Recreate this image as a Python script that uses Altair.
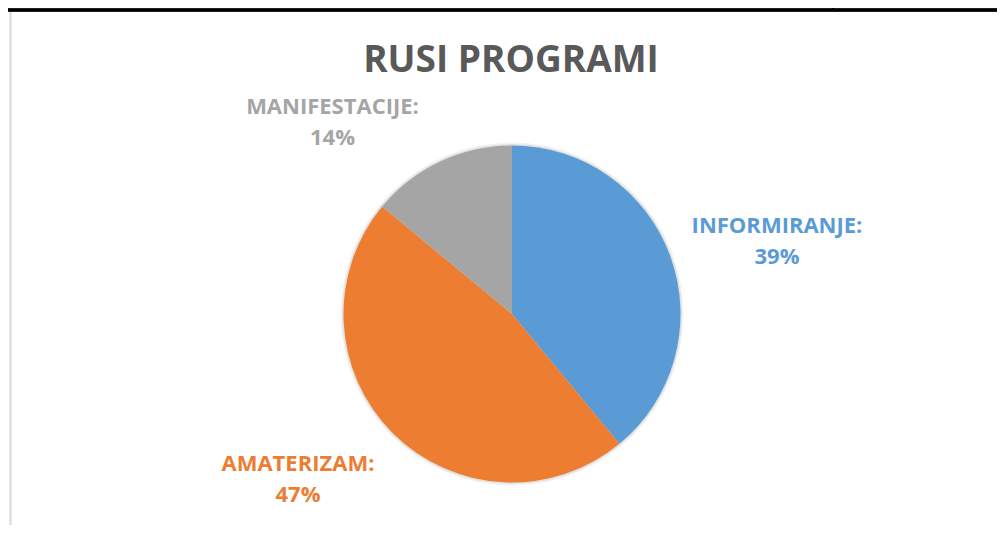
import altair as alt
import pandas as pd

# ---- data ----
title_text = "RUSI PROGRAMI"
categories = ["INFORMIRANJE", "AMATERIZAM", "MANIFESTACIJE"]
values = [39, 47, 14]
order = [0, 1, 2]

# ---- styles ----
colors = ["#5B9BD5", "#ED7D31", "#A5A5A5"]
FONT = "Open Sans"
W, H = 970, 422
R = 168.5
LABEL_R = 230
# per-label nudges (pixels) from the slice mid-angle point
nudges = {"INFORMIRANJE": (48.6, -10), "AMATERIZAM": (-51.4, -13), "MANIFESTACIJE": (-81.6, 1)}

df = pd.DataFrame({"cat": categories, "value": values, "order": order})

color_scale = alt.Scale(domain=categories, range=colors)

shadow1 = alt.Chart(df).transform_aggregate(total="sum(value)").mark_arc(
    outerRadius=R + 3, color="#000000", opacity=0.05
).encode(theta=alt.Theta("total:Q"))
shadow2 = alt.Chart(df).transform_aggregate(total="sum(value)").mark_arc(
    outerRadius=R + 1.5, color="#000000", opacity=0.07
).encode(theta=alt.Theta("total:Q"))

pie = alt.Chart(df).mark_arc(outerRadius=R, strokeWidth=0).encode(
    theta=alt.Theta("value:Q", stack=True),
    color=alt.Color("cat:N", scale=color_scale, legend=None),
    order=alt.Order("order:Q"),
)

base = alt.Chart(df).transform_window(
    cum="sum(value)", sort=[alt.SortField("order")], frame=[None, 0]
).transform_calculate(
    mid="datum.cum - datum.value / 2",
    label="[datum.cat + ':', datum.value + '%']",
)

label_layers = []
for c in categories:
    dx, dy = nudges[c]
    label_layers.append(
        base.transform_filter(alt.datum.cat == c).mark_text(
            radius=LABEL_R, dx=dx, dy=dy, font=FONT, fontSize=22, fontWeight="bold",
            lineHeight=31, align="center", baseline="middle",
        ).encode(
            theta=alt.Theta("mid:Q", stack=None, scale=alt.Scale(domain=[0, 100], range=[0, 6.283185307179586])),
            text=alt.Text("label:N"),
            color=alt.Color("cat:N", scale=color_scale, legend=None),
        )
    )

title = alt.Chart(pd.DataFrame({"t": [title_text]})).mark_text(
    font=FONT, fontSize=37, fontWeight="bold", color="#595959", align="center", baseline="alphabetic"
).encode(text="t:N", x=alt.value(484), y=alt.value(-31))

top_line = alt.Chart(df).mark_rule(color="#000000", strokeWidth=3).encode(
    x=alt.value(-19), x2=alt.value(W), y=alt.value(-93)
)
top_tick = alt.Chart(df).mark_rule(color="#000000", strokeWidth=1.5).encode(
    x=alt.value(806), y=alt.value(-96), y2=alt.value(-94)
)
left_line = alt.Chart(df).mark_rule(color="#D9D9D9", strokeWidth=1.5).encode(
    x=alt.value(-16.5), y=alt.value(-91), y2=alt.value(H)
)

chart = alt.layer(
    shadow1, shadow2, pie, *label_layers, title, top_line, top_tick, left_line
).resolve_scale(theta="independent").properties(
    width=W, height=H,
    padding={"left": 19, "top": 95, "right": 0, "bottom": 0},
    autosize=alt.AutoSizeParams(type="none"),
).configure_view(stroke=None)

chart.save("out.html", embed_options={"renderer": "svg", "actions": False})
